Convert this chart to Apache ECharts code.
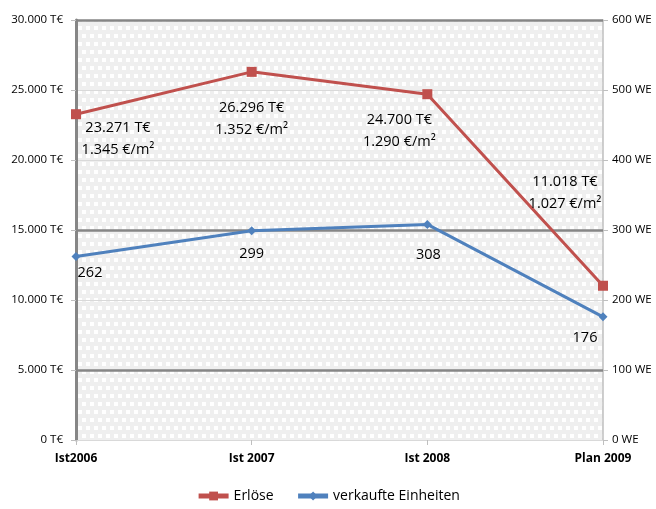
<!DOCTYPE html>
<html>
<head>
<meta charset="utf-8">
<script src="https://cdn.jsdelivr.net/npm/echarts@6/dist/echarts.min.js"></script>
<style>
  html, body { margin: 0; padding: 0; background: #fff; }
  #chart { width: 656px; height: 509px; }
</style>
</head>
<body>
<div id="chart"></div>
<script>
// Jahre / Kategorien
const jahre = ['Ist2006', 'Ist 2007', 'Ist 2008', 'Plan 2009'];
// Erlöse in T€
const erloese = [23271, 26296, 24700, 11018];
// Erlös je Quadratmeter in €/m²
const erloesProQm = [1345, 1352, 1290, 1027];
// verkaufte Wohneinheiten
const einheiten = [262, 299, 308, 176];
// Achsen
const erloesAchse = { min: 0, max: 30000, step: 5000 };
const einheitenAchse = { min: 0, max: 600, step: 100 };
// hervorgehobene Rasterlinien (T€)
const starkeLinien = [30000, 15000, 5000];

// Label-Versatz je Punkt (Pixel, relativ zum Punkt)
const erloesOffsets = [[42, 25], [0, 47], [-28, 37], [-38, -93]];
const einheitenOffsets = [[14, 16], [0, 23], [1, 30], [-18, 21]];

const fmt = n => n.toLocaleString('de-DE');
const FONT = 'Open Sans';

// Karomuster für die Zeichenfläche
function makePattern() {
  const c = document.createElement('canvas');
  c.width = 16; c.height = 16;
  const g = c.getContext('2d');
  g.fillStyle = '#efefef';
  g.fillRect(0, 0, 16, 16);
  g.fillStyle = '#ffffff';
  g.fillRect(2, 2, 4, 4);
  g.fillRect(10, 2, 4, 4);
  g.fillRect(6, 10, 4, 4);
  g.fillRect(14, 10, 2, 4);
  g.fillRect(0, 10, 2, 4);
  return c;
}

const chart = echarts.init(document.getElementById('chart'));

const option = {
  animation: false,
  textStyle: { fontFamily: FONT },
  grid: {
    left: 76, right: 53, top: 20, bottom: 69,
    show: true,
    borderWidth: 0,
    backgroundColor: { image: makePattern(), repeat: 'repeat' }
  },
  legend: {
    bottom: 1,
    left: 'center',
    itemWidth: 30,
    itemHeight: 11,
    itemGap: 22,
    textStyle: { fontFamily: FONT, fontSize: 14, color: '#000' },
    data: [
      { name: 'Erlöse', lineStyle: { width: 5 } },
      { name: 'verkaufte Einheiten', lineStyle: { width: 5 } }
    ]
  },
  xAxis: {
    type: 'category',
    data: jahre,
    boundaryGap: false,
    axisLine: { show: true, lineStyle: { color: '#d9d9d9', width: 1 } },
    axisTick: { show: true, alignWithLabel: true, length: 5, lineStyle: { color: '#bfbfbf' } },
    axisLabel: {
      margin: 13,
      fontFamily: FONT,
      fontSize: 12,
      fontWeight: 'bold',
      color: '#000'
    },
    splitLine: { show: false }
  },
  yAxis: [
    {
      type: 'value',
      position: 'left',
      min: erloesAchse.min,
      max: erloesAchse.max,
      interval: erloesAchse.step,
      axisLine: { show: true, lineStyle: { color: '#868686', width: 3 } },
      axisTick: { show: true, length: 5, lineStyle: { color: '#bfbfbf' } },
      axisLabel: {
        margin: 13,
        fontFamily: FONT,
        fontSize: 11.5,
        color: '#000',
        formatter: v => fmt(v) + ' T€'
      },
      splitLine: { show: true, lineStyle: { color: '#d9d9d9', width: 1 } }
    },
    {
      type: 'value',
      position: 'right',
      min: einheitenAchse.min,
      max: einheitenAchse.max,
      interval: einheitenAchse.step,
      axisLine: { show: true, lineStyle: { color: '#bfbfbf', width: 1.5 } },
      axisTick: { show: true, length: 5, lineStyle: { color: '#bfbfbf' } },
      axisLabel: {
        margin: 9,
        fontFamily: FONT,
        fontSize: 11.5,
        color: '#000',
        formatter: v => v + ' WE'
      },
      splitLine: { show: false }
    }
  ],
  series: [
    {
      name: 'Erlöse',
      type: 'line',
      yAxisIndex: 0,
      data: erloese,
      z: 5,
      color: '#C0504D',
      symbol: 'rect',
      symbolSize: 10,
      lineStyle: { width: 3, color: '#C0504D' },
      itemStyle: { color: '#C0504D' },
      label: {
        show: true,
        position: 'inside',
        align: 'center',
        verticalAlign: 'middle',
        fontFamily: FONT,
        fontSize: 14.5,
        lineHeight: 22,
        color: '#000',
        formatter: p => fmt(erloese[p.dataIndex]) + ' T€\n' + fmt(erloesProQm[p.dataIndex]) + ' €/m²'
      },
      labelLayout: p => ({
        dx: erloesOffsets[p.dataIndex][0],
        dy: erloesOffsets[p.dataIndex][1]
      }),
      markLine: {
        silent: true,
        symbol: 'none',
        label: { show: false },
        lineStyle: { color: '#868686', width: 2.5, type: 'solid' },
        data: starkeLinien.map(v => ({ yAxis: v })),
        z: 1
      }
    },
    {
      name: 'verkaufte Einheiten',
      type: 'line',
      yAxisIndex: 1,
      data: einheiten,
      z: 6,
      color: '#4F81BD',
      symbol: 'diamond',
      symbolSize: 9,
      lineStyle: { width: 3, color: '#4F81BD' },
      itemStyle: { color: '#4F81BD' },
      label: {
        show: true,
        position: 'inside',
        align: 'center',
        verticalAlign: 'middle',
        fontFamily: FONT,
        fontSize: 14.5,
        color: '#000',
        formatter: p => String(einheiten[p.dataIndex])
      },
      labelLayout: p => ({
        dx: einheitenOffsets[p.dataIndex][0],
        dy: einheitenOffsets[p.dataIndex][1]
      })
    }
  ]
};

chart.setOption(option);
</script>
</body>
</html>
